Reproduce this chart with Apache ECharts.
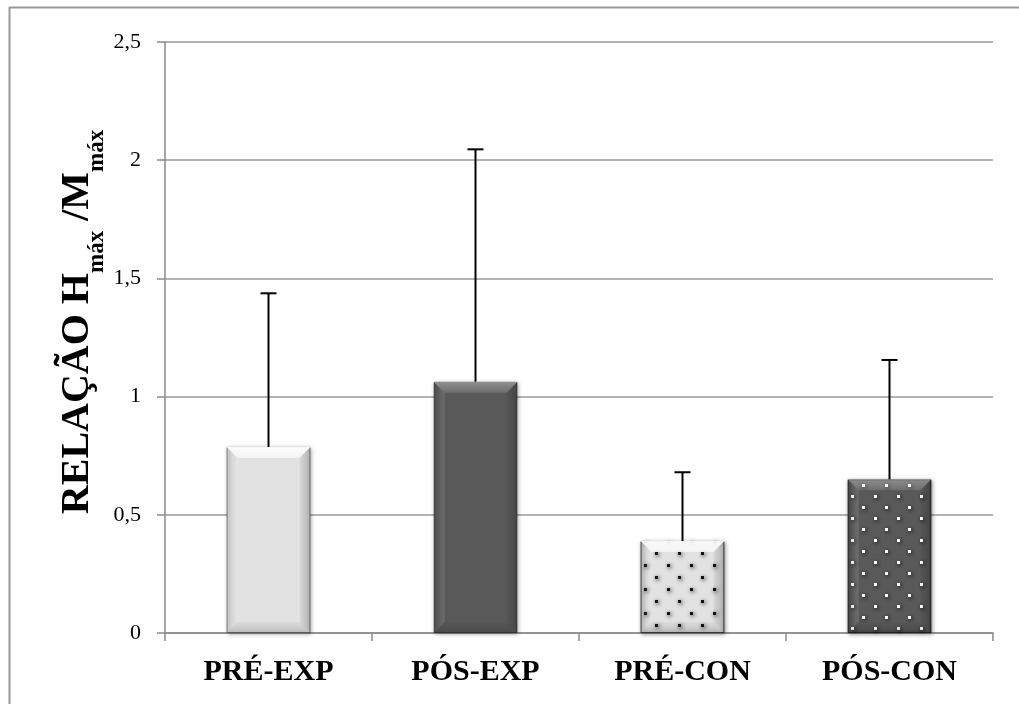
<!DOCTYPE html>
<html>
<head>
<meta charset="utf-8">
<title>Relação Hmáx/Mmáx</title>
<script src="https://cdn.jsdelivr.net/npm/echarts@6/dist/echarts.min.js"></script>
<style>
  html, body { margin: 0; padding: 0; background: #fff; }
  #chart { width: 1019px; height: 704px; }
</style>
</head>
<body>
<div id="chart"></div>
<script>
// data
var categories = ['PRÉ-EXP', 'PÓS-EXP', 'PRÉ-CON', 'PÓS-CON'];
var means = [0.787, 1.063, 0.389, 0.650];
var errors = [0.650, 0.983, 0.291, 0.505];

// look of each bar (light / dark, dotted or not)
var barColors = ['#e2e2e2', '#595959', '#e2e2e2', '#595959'];
var dotColors = [null, null, '#111', '#fff'];

var serif = '"Liberation Serif", "DejaVu Serif", serif';

function lg(x, y, x2, y2, c1, c2) {
    return new echarts.graphic.LinearGradient(x, y, x2, y2, [
        {offset: 0, color: c1},
        {offset: 1, color: c2}
    ]);
}

function dots(color, rowGap) {
    return {
        symbol: 'rect',
        symbolSize: 1,
        color: color,
        dashArrayX: [[2.5, 19.2], [0, 10.85, 2.5, 8.35]],
        dashArrayY: [2.5, rowGap]
    };
}

var barData = means.map(function (v, i) {
    var style = {color: barColors[i]};
    if (dotColors[i]) {
        style.decal = dots(dotColors[i], i === 2 ? 9 : 7.5);
    }
    return {value: v, itemStyle: style};
});

var errData = means.map(function (v, i) {
    return [i, v, v + errors[i]];
});

// bevel look drawn on top of each bar
function renderBevel(params, api) {
    var i = api.value(0);
    var top = api.coord([i, api.value(1)]);
    var base = api.coord([i, 0]);
    var w = api.size([1, 0])[0] * 0.405;
    var x0 = top[0] - w / 2, x1 = top[0] + w / 2;
    var y0 = top[1], y1 = base[1];
    var b = Math.min(11, (y1 - y0) / 2);
    var light = barColors[i] === '#e2e2e2';
    return {
        type: 'group',
        children: [
            {
                type: 'polygon',
                shape: {points: [[x0, y0], [x1, y0], [x1 - b, y0 + b], [x0 + b, y0 + b]]},
                style: {fill: lg(0, 0, 0, 1, light ? 'rgba(255,255,255,0.95)' : 'rgba(255,255,255,0.35)',
                    light ? 'rgba(255,255,255,0.6)' : 'rgba(255,255,255,0.12)')}
            },
            {
                type: 'polygon',
                shape: {points: [[x0, y0], [x0 + b, y0 + b], [x0 + b, y1 - b], [x0, y1]]},
                style: {fill: lg(0, 0, 1, 0, 'rgba(0,0,0,0.12)', 'rgba(255,255,255,0.12)')}
            },
            {
                type: 'polygon',
                shape: {points: [[x1, y0], [x1, y1], [x1 - b, y1 - b], [x1 - b, y0 + b]]},
                style: {fill: lg(0, 0, 1, 0, 'rgba(0,0,0,0.04)', 'rgba(0,0,0,0.22)')}
            },
            {
                type: 'polygon',
                shape: {points: [[x0, y1], [x0 + b, y1 - b], [x1 - b, y1 - b], [x1, y1]]},
                style: {fill: lg(0, 0, 0, 1, 'rgba(0,0,0,0.03)', 'rgba(0,0,0,0.16)')}
            }
        ]
    };
}

function renderError(params, api) {
    var i = api.value(0);
    var lo = api.coord([i, api.value(1)]);
    var hi = api.coord([i, api.value(2)]);
    var cap = 8;
    var st = {stroke: '#000', lineWidth: 2};
    return {
        type: 'group',
        children: [
            {type: 'line', shape: {x1: lo[0], y1: lo[1], x2: hi[0], y2: hi[1]}, style: st},
            {type: 'line', shape: {x1: hi[0] - cap, y1: hi[1], x2: hi[0] + cap, y2: hi[1]}, style: st}
        ]
    };
}

var chart = echarts.init(document.getElementById('chart'));

var option = {
    animation: false,
    backgroundColor: '#fff',
    grid: {left: 165, right: 26, top: 42, bottom: 71},
    graphic: [
        // frame of the picture (top and left edges only)
        {type: 'line', shape: {x1: 9, y1: 7.5, x2: 1019, y2: 7.5}, style: {stroke: '#9a9a9a', lineWidth: 2}},
        {type: 'line', shape: {x1: 9.5, y1: 7, x2: 9.5, y2: 704}, style: {stroke: '#9a9a9a', lineWidth: 2}},
        {
            type: 'text',
            x: 78,
            y: 322,
            rotation: Math.PI / 2,
            style: {
                text: 'RELAÇÃO H{s|máx} /M{s|máx}',
                align: 'center',
                verticalAlign: 'middle',
                font: 'bold 40px ' + serif,
                fill: '#000',
                rich: {
                    s: {
                        fontFamily: serif,
                        fontWeight: 'bold',
                        fontSize: 23,
                        lineHeight: 23,
                        padding: [28, 0, 0, 0],
                        verticalAlign: 'top',
                        fill: '#000'
                    }
                }
            }
        }
    ],
    xAxis: {
        type: 'category',
        data: categories,
        axisLine: {lineStyle: {color: '#8a8a8a', width: 1.5}},
        axisTick: {show: true, length: 8, lineStyle: {color: '#8a8a8a', width: 1.5}},
        axisLabel: {
            margin: 24,
            color: '#000',
            fontFamily: serif,
            fontWeight: 'bold',
            fontSize: 30
        }
    },
    yAxis: {
        type: 'value',
        min: 0,
        max: 2.5,
        interval: 0.5,
        axisLine: {show: true, lineStyle: {color: '#8a8a8a', width: 1.5}},
        axisTick: {show: true, length: 8, lineStyle: {color: '#8a8a8a', width: 1.5}},
        splitLine: {lineStyle: {color: '#9a9a9a', width: 1.5}},
        axisLabel: {
            margin: 24,
            color: '#000',
            fontFamily: serif,
            fontSize: 22,
            formatter: function (v) { return String(v).replace('.', ','); }
        }
    },
    series: [
        {
            type: 'bar',
            barWidth: '40.5%',
            data: barData,
            itemStyle: {
                borderColor: 'rgba(0,0,0,0.35)',
                borderWidth: 1,
                shadowBlur: 4,
                shadowColor: 'rgba(0,0,0,0.35)',
                shadowOffsetX: 1,
                shadowOffsetY: 1
            },
            z: 2
        },
        {
            type: 'custom',
            renderItem: renderBevel,
            data: means.map(function (v, i) { return [i, v]; }),
            silent: true,
            z: 3
        },
        {
            type: 'custom',
            renderItem: renderError,
            data: errData,
            silent: true,
            z: 4
        }
    ]
};

chart.setOption(option);
</script>
</body>
</html>
